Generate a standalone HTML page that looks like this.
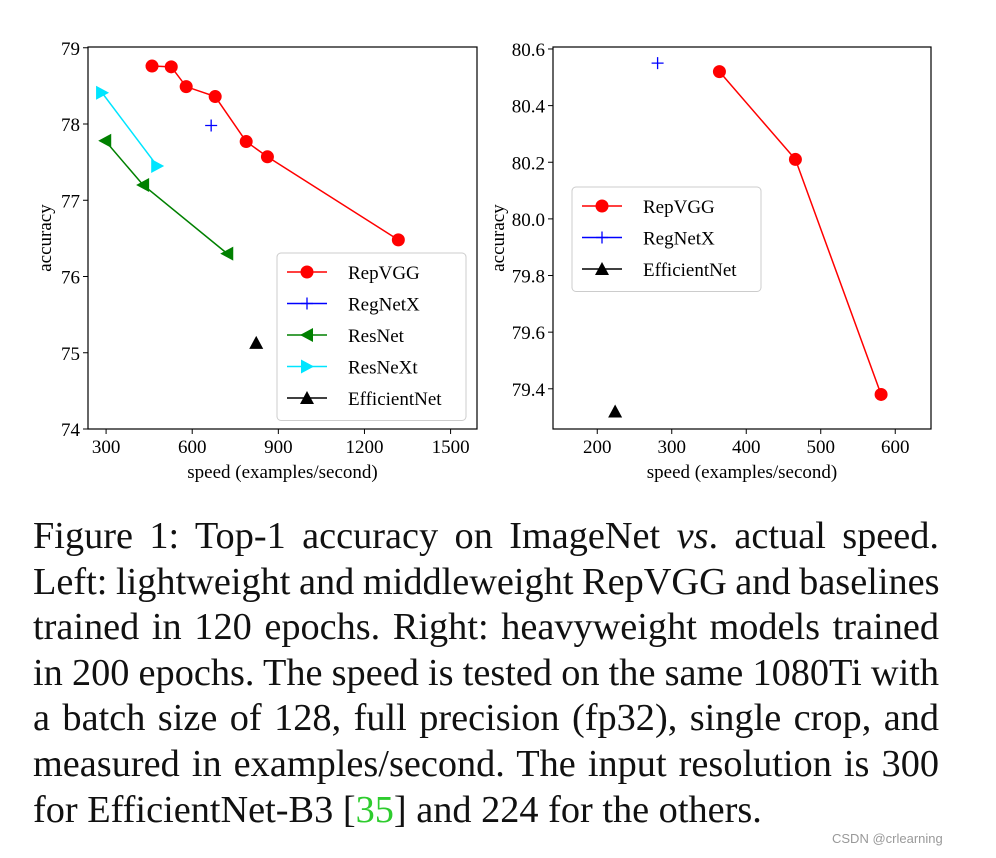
<!DOCTYPE html>
<html><head><meta charset="utf-8"><style>
body{margin:0;background:#fff;width:996px;height:858px;overflow:hidden;position:relative;font-family:"Liberation Serif",serif}
#cap{position:absolute;left:33px;top:514px;width:906px;font-size:38.3px;line-height:45.6px;color:#111}
#cap div{text-align:justify;text-align-last:justify;white-space:nowrap;word-spacing:-1px}
#cap div.last{text-align-last:left;word-spacing:0}
#wm{position:absolute;left:832px;top:831px;font-family:"Liberation Sans",sans-serif;font-size:13px;color:#999}
</style></head><body>
<svg id="chart" width="996" height="510" style="position:absolute;left:0;top:0" font-family="Liberation Serif, serif"></svg>
<div id="cap">
<div>Figure 1: Top-1 accuracy on ImageNet <i>vs</i>. actual speed.</div>
<div>Left: lightweight and middleweight RepVGG and baselines</div>
<div>trained in 120 epochs. Right: heavyweight models trained</div>
<div>in 200 epochs. The speed is tested on the same 1080Ti with</div>
<div>a batch size of 128, full precision (fp32), single crop, and</div>
<div>measured in examples/second. The input resolution is 300</div>
<div class="last">for EfficientNet-B3 [<span style="color:#2ecc2e">35</span>] and 224 for the others.</div>
</div>
<div id="wm">CSDN @crlearning</div>
<script>
const leftRepSpeed=[460,527,579,680,788,862,1318];
const leftRepAcc=[78.76,78.75,78.49,78.36,77.77,77.57,76.48];
const leftRegSpeed=[666];const leftRegAcc=[77.98];
const leftResSpeed=[297,429,722];const leftResAcc=[77.78,77.2,76.3];
const leftRexSpeed=[286,478];const leftRexAcc=[78.41,77.45];
const leftEffSpeed=[823];const leftEffAcc=[75.13];
const leftXTicks=[300,600,900,1200,1500];
const leftYTicks=[74,75,76,77,78,79];
const rightRepSpeed=[364,466,581];const rightRepAcc=[80.52,80.21,79.38];
const rightRegSpeed=[281];const rightRegAcc=[80.55];
const rightEffSpeed=[224];const rightEffAcc=[79.32];
const rightXTicks=[200,300,400,500,600];
const rightYTicks=[79.4,79.6,79.8,80.0,80.2,80.4,80.6];
const svg=document.getElementById('chart');const NS='http://www.w3.org/2000/svg';
function mk(t,a,p){const e=document.createElementNS(NS,t);for(const k in a)e.setAttribute(k,a[k]);(p||svg).appendChild(e);return e;}
function marker(g,kind,x,y,c){
 let e;
 if(kind==='o')e=mk('circle',{cx:x,cy:y,r:6.5,fill:c},g);
 else if(kind==='+')e=mk('path',{d:`M${x-6},${y}H${x+6}M${x},${y-6}V${y+6}`,stroke:c,'stroke-width':1.3},g);
 else if(kind==='<')e=mk('polygon',{points:`${x-7},${y} ${x+6},${y-7} ${x+6},${y+7}`,fill:c},g);
 else if(kind==='>')e=mk('polygon',{points:`${x+7},${y} ${x-6},${y-7} ${x-6},${y+7}`,fill:c},g);
 else e=mk('polygon',{points:`${x},${y-7} ${x+7},${y+6} ${x-7},${y+6}`,fill:c},g);
 
 
}
function plot(o){
 const X=v=>o.x0+(v-o.xa)/(o.xb-o.xa)*(o.x1-o.x0);
 const Y=v=>o.y1-(v-o.ya)/(o.yb-o.ya)*(o.y1-o.y0);
 const g=mk('g',{});
 const f=mk('rect',{x:o.x0,y:o.y0,width:o.x1-o.x0,height:o.y1-o.y0,fill:'none',stroke:'#000','stroke-width':1.2},g);
 
 o.xt.forEach(v=>{const x=X(v);mk('line',{x1:x,x2:x,y1:o.y1,y2:o.y1+5,stroke:'#000'},g);
  const t=mk('text',{x:x,y:o.y1+24,'text-anchor':'middle','font-size':19},g);t.textContent=v;
  });
 o.yt.forEach(v=>{const y=Y(v);mk('line',{x1:o.x0-5,x2:o.x0,y1:y,y2:y,stroke:'#000'},g);
  const t=mk('text',{x:o.x0-8,y:y+7,'text-anchor':'end','font-size':19},g);t.textContent=o.yf(v);
  });
 const xl=mk('text',{x:(o.x0+o.x1)/2,y:o.y1+49,'text-anchor':'middle','font-size':19},g);xl.textContent='speed (examples/second)';
 
 const yl=mk('text',{x:0,y:0,'text-anchor':'middle','font-size':19,transform:`translate(${o.ylx},${(o.y0+o.y1)/2}) rotate(-90)`},g);yl.textContent='accuracy';
 
 o.series.forEach(s=>{
  if(s.xs.length>1){const p=mk('polyline',{points:s.xs.map((v,i)=>X(v)+','+Y(s.ys[i])).join(' '),fill:'none',stroke:s.c,'stroke-width':1.5},g);
   }
  s.xs.forEach((v,i)=>marker(g,s.m,X(v),Y(s.ys[i]),s.c));
 });
 const L=o.leg;const lg=mk('g',{},g);
 mk('rect',{x:L.x,y:L.y,width:L.w,height:o.series.length*31.5+10,rx:4,fill:'#fff',stroke:'#ccc'},lg);
 o.series.forEach((s,i)=>{const y=L.y+19+i*31.5;
  mk('line',{x1:L.x+10,x2:L.x+50,y1:y,y2:y,stroke:s.c,'stroke-width':1.5},lg);marker(lg,s.m,L.x+30,y,s.c);
  const t=mk('text',{x:L.x+71,y:y+7,'font-size':19},lg);t.textContent=s.label;
  });
}
plot({name:'left-chart',x0:88,x1:477,y0:47,y1:429,xa:237,xb:1592,ya:74,yb:79.01,xt:leftXTicks,yt:leftYTicks,yf:v=>v,ylx:51,
 leg:{x:277,y:253,w:189},
 series:[{n:'repvgg',label:'RepVGG',m:'o',c:'#ff0000',xs:leftRepSpeed,ys:leftRepAcc},
  {n:'regnetx',label:'RegNetX',m:'+',c:'#0000ff',xs:leftRegSpeed,ys:leftRegAcc},
  {n:'resnet',label:'ResNet',m:'<',c:'#008000',xs:leftResSpeed,ys:leftResAcc},
  {n:'resnext',label:'ResNeXt',m:'>',c:'#00e5ff',xs:leftRexSpeed,ys:leftRexAcc},
  {n:'efficientnet',label:'EfficientNet',m:'^',c:'#000',xs:leftEffSpeed,ys:leftEffAcc}]});
plot({name:'right-chart',x0:553,x1:931,y0:47,y1:429,xa:140.6,xb:648,ya:79.258,yb:80.607,xt:rightXTicks,yt:rightYTicks,yf:v=>v.toFixed(1),ylx:504,
 leg:{x:572,y:187,w:189},
 series:[{n:'repvgg',label:'RepVGG',m:'o',c:'#ff0000',xs:rightRepSpeed,ys:rightRepAcc},
  {n:'regnetx',label:'RegNetX',m:'+',c:'#0000ff',xs:rightRegSpeed,ys:rightRegAcc},
  {n:'efficientnet',label:'EfficientNet',m:'^',c:'#000',xs:rightEffSpeed,ys:rightEffAcc}]});
</script>
</body></html>
